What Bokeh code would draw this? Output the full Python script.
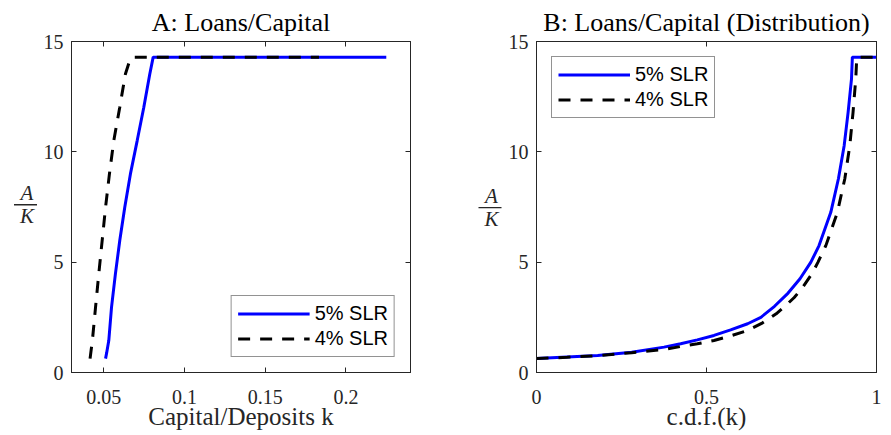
from bokeh.plotting import figure
from bokeh.models import LinearAxis, FixedTicker, Range1d, Legend, LegendItem
from bokeh.layouts import row
from bokeh.embed import file_html
from bokeh.resources import INLINE
from bokeh.core.properties import value

# ---------------- data ----------------
# Panel A: loans/capital against capital/deposits k
k_slr5 = [0.0511, 0.0518, 0.0531, 0.0548, 0.0572, 0.0599, 0.0630, 0.0665, 0.0707, 0.0748, 0.0785, 0.0806, 0.225]
ak_slr5_a = [0.63, 0.90, 1.45, 2.96, 4.47, 5.98, 7.49, 9.00, 10.51, 12.02, 13.53, 14.29, 14.29]
k_slr4 = [0.0415, 0.0430, 0.0449, 0.0469, 0.0490, 0.0511, 0.0535, 0.0562, 0.0599, 0.0634, 0.0663, 0.0675, 0.1833]
ak_slr4_a = [0.63, 1.50, 2.96, 4.47, 5.98, 7.49, 9.00, 10.51, 12.02, 13.53, 14.20, 14.29, 14.29]

# Panel B: loans/capital against the c.d.f. of k
cdf_slr5 = [0.0, 0.09, 0.18, 0.28, 0.375, 0.424, 0.473, 0.522, 0.571, 0.621, 0.66, 0.70, 0.74,
            0.775, 0.807, 0.831, 0.8656, 0.888, 0.905, 0.9165, 0.9265, 0.929, 1.0]
ak_slr5_b = [0.63, 0.70, 0.77, 0.92, 1.15, 1.30, 1.48, 1.68, 1.93, 2.21, 2.50, 3.00, 3.60,
             4.25, 5.00, 5.75, 7.26, 8.78, 10.29, 11.79, 13.31, 14.29, 14.29]
cdf_slr4 = [0.0, 0.09, 0.18, 0.28, 0.375, 0.424, 0.473, 0.522, 0.571, 0.621, 0.665, 0.705, 0.728,
            0.758, 0.78, 0.81, 0.828, 0.851, 0.885, 0.9068, 0.9215, 0.931, 0.939, 0.942, 1.0]
ak_slr4_b = [0.63, 0.69, 0.76, 0.90, 1.04, 1.18, 1.30, 1.45, 1.66, 1.90, 2.25, 2.66, 2.96,
             3.40, 3.80, 4.47, 5.00, 5.75, 7.26, 8.78, 10.29, 11.79, 13.31, 14.29, 14.29]

series_labels = ["5% SLR", "4% SLR"]
xa_ticks = [0.05, 0.1, 0.15, 0.2]
xa_tick_labels = ["0.05", "0.1", "0.15", "0.2"]
xb_ticks = [0, 0.5, 1]
xb_tick_labels = ["0", "0.5", "1"]
y_ticks = [0, 5, 10, 15]
y_tick_labels = ["0", "5", "10", "15"]
y_label_parts = ["A", "K"]          # y label is the fraction A / K

AX = "#262626"
SERIF = "Liberation Serif"
H = 435
TOP, BOTTOM = 41, 63


def make_panel(title, xr, xticks, xlabels, xlabel, border_left, frame_w, border_right):
    p = figure(width=border_left + frame_w + border_right, height=H,
               x_range=Range1d(*xr), y_range=Range1d(0, 15),
               output_backend="svg", toolbar_location=None,
               min_border_left=border_left, min_border_right=border_right,
               min_border_top=TOP, min_border_bottom=BOTTOM,
               title=title)
    p.title.align = "center"
    p.title.text_font = SERIF
    p.title.text_font_size = "26px"
    p.title.text_font_style = "normal"
    p.title.text_color = "black"
    p.title.standoff = 10
    p.grid.visible = False
    p.outline_line_color = AX
    p.background_fill_color = "white"
    p.border_fill_color = "white"

    p.xaxis.ticker = FixedTicker(ticks=xticks)
    p.xaxis.major_label_overrides = dict(zip(xticks, xlabels))
    p.yaxis.ticker = FixedTicker(ticks=y_ticks)
    p.yaxis.major_label_overrides = dict(zip(y_ticks, y_tick_labels))
    p.xaxis.axis_label = xlabel
    p.xaxis.axis_label_text_font = SERIF
    p.xaxis.axis_label_text_font_size = "25px"
    p.xaxis.axis_label_text_font_style = "normal"
    p.xaxis.axis_label_text_color = AX
    p.xaxis.axis_label_text_line_height = 1.0
    p.xaxis.axis_label_standoff = -4
    for ax in (p.xaxis[0], p.yaxis[0]):
        ax.major_tick_in = 5
        ax.major_tick_out = 0
        ax.minor_tick_line_color = None
        ax.axis_line_color = AX
        ax.major_tick_line_color = AX
        ax.major_label_text_font = SERIF
        ax.major_label_text_font_size = "20px"
        ax.major_label_text_color = AX
        ax.major_label_text_line_height = 1.0
    p.xaxis.major_label_standoff = 17
    p.yaxis.major_label_standoff = 8

    top = LinearAxis(ticker=FixedTicker(ticks=xticks), major_tick_in=5, major_tick_out=0,
                     minor_tick_line_color=None, major_label_text_font_size="0px",
                     major_label_text_color=None, major_label_standoff=0,
                     axis_line_color=AX, major_tick_line_color=AX)
    right = LinearAxis(ticker=FixedTicker(ticks=y_ticks), major_tick_in=5, major_tick_out=0,
                       minor_tick_line_color=None, major_label_text_font_size="0px",
                       major_label_text_color=None, major_label_standoff=0,
                       axis_line_color=AX, major_tick_line_color=AX)
    p.add_layout(top, "above")
    p.add_layout(right, "right")
    return p


def fraction_strip(width, xc, ya, yk, bx0, bx1, by):
    # narrow strip left of a panel carrying the y label  A / K ;
    # it shares the panels' vertical A/K scale (0..15), x is in pixels
    f = figure(width=width, height=H, x_range=Range1d(0, width), y_range=Range1d(0, 15),
               x_axis_type=None, y_axis_type=None, toolbar_location=None,
               output_backend="svg", min_border_left=0, min_border_right=0,
               min_border_top=TOP, min_border_bottom=BOTTOM)
    f.outline_line_color = None
    f.grid.visible = False
    f.background_fill_color = "white"
    f.border_fill_color = "white"
    f.text(x=[xc, xc], y=[ya, yk], text=y_label_parts, text_font=value(SERIF),
           text_font_style="italic", text_font_size="21px", text_align="center",
           text_baseline="middle", text_color=AX)
    f.segment(x0=[bx0], y0=[by], x1=[bx1], y1=[by], line_color=AX, line_width=1.4)
    return f


def add_legend(p, r5, r4, loc):
    leg = Legend(items=[LegendItem(label=series_labels[0], renderers=[r5]),
                        LegendItem(label=series_labels[1], renderers=[r4])],
                 location=loc)
    leg.label_text_font = "Liberation Sans"
    leg.label_text_font_size = "20px"
    leg.label_text_color = "black"
    leg.glyph_width = 72
    leg.glyph_height = 19
    leg.label_height = 19
    leg.spacing = 2
    leg.padding = 6
    leg.margin = 15
    leg.label_standoff = 5
    leg.border_line_color = AX
    leg.border_line_width = 1
    leg.background_fill_color = "white"
    leg.background_fill_alpha = 1.0
    p.add_layout(leg)


# ---------------- panel A ----------------
fa = fraction_strip(40, 26.5, 8.14, 7.07, 13.5, 36.5, 7.60)
pa = make_panel("A: Loans/Capital", (0.03, 0.24), xa_ticks, xa_tick_labels,
                "Capital/Deposits k", 31, 339, 30)
ra5 = pa.line(k_slr5, ak_slr5_a, line_color="#0000ff", line_width=3)
ra4 = pa.line(k_slr4, ak_slr4_a, line_color="black", line_width=3, line_dash="12 10")
add_legend(pa, ra5, ra4, "bottom_right")

# ---------------- panel B ----------------
fb = fraction_strip(65, 51, 8.01, 6.94, 38, 61, 7.47)
pb = make_panel("B: Loans/Capital (Distribution)", (0, 1), xb_ticks, xb_tick_labels,
                "c.d.f.(k)", 31, 340, 15)
rb5 = pb.line(cdf_slr5, ak_slr5_b, line_color="#0000ff", line_width=3)
rb4 = pb.line(cdf_slr4, ak_slr4_b, line_color="black", line_width=3, line_dash="12 10")
add_legend(pb, rb5, rb4, "top_left")

layout = row(fa, pa, fb, pb)
open("out.html", "w").write(file_html(layout, INLINE))
